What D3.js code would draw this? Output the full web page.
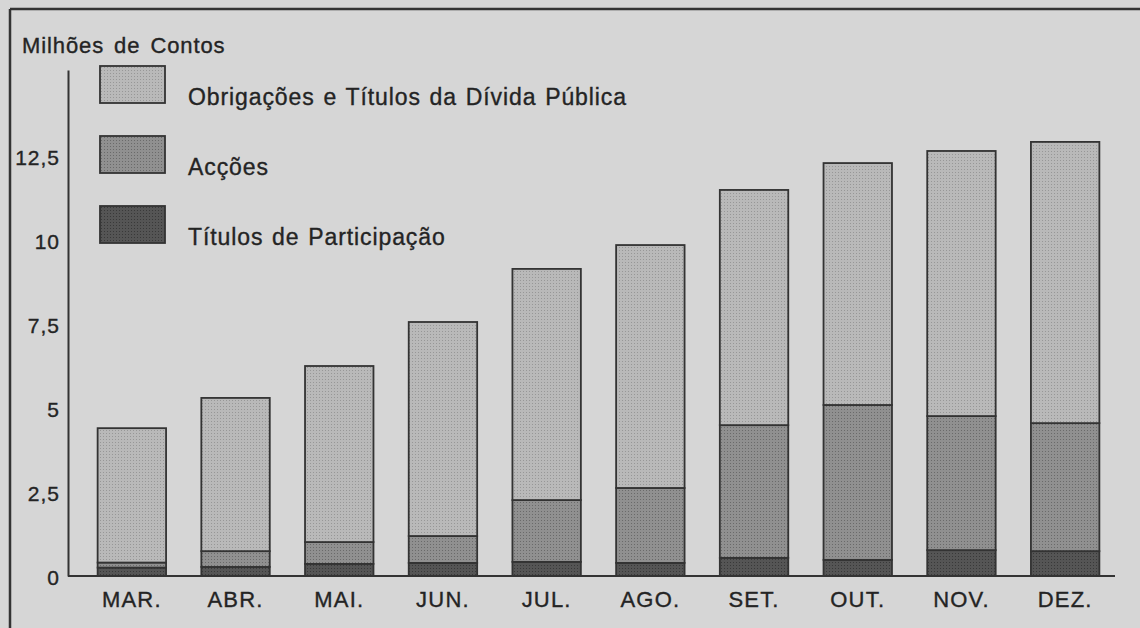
<!DOCTYPE html>
<html>
<head>
<meta charset="utf-8">
<script src="https://cdn.jsdelivr.net/npm/d3@7"></script>
<style>
body { margin: 0; background: #d6d6d6; }
svg { display: block; }
text { font-family: "Liberation Sans", Arial, sans-serif; fill: #242424; stroke: #242424; stroke-width: 0.35px; }
</style>
</head>
<body>
<svg id="chart" width="1140" height="628"></svg>
<script>
// values (millions of contos)
var months = ["MAR.", "ABR.", "MAI.", "JUN.", "JUL.", "AGO.", "SET.", "OUT.", "NOV.", "DEZ."];
var titulos = [0.25, 0.27, 0.36, 0.39, 0.42, 0.39, 0.54, 0.48, 0.77, 0.74];
var accoes = [0.15, 0.47, 0.65, 0.80, 1.84, 2.23, 3.95, 4.61, 3.99, 3.81];
var obrigacoes = [4.00, 4.56, 5.24, 6.37, 6.88, 7.23, 7.00, 7.20, 7.89, 8.37];
var yTicks = [0, 2.5, 5, 7.5, 10, 12.5];
var seriesNames = ["Obrigações e Títulos da Dívida Pública", "Acções", "Títulos de Participação"];

var svg = d3.select("#chart");

// halftone-ish fills
var defs = svg.append("defs");
function dotPattern(id, base, dot) {
	var p = defs.append("pattern")
		.attr("id", id)
		.attr("width", 3)
		.attr("height", 3)
		.attr("patternUnits", "userSpaceOnUse");
	p.append("rect").attr("width", 3).attr("height", 3).attr("fill", base);
	p.append("rect").attr("x", 1).attr("y", 1).attr("width", 1).attr("height", 1).attr("fill", dot);
}
dotPattern("pObr", "#b9b9b9", "#979797");
dotPattern("pAcc", "#909090", "#6a6a6a");
dotPattern("pTit", "#555555", "#393939");
var fills = ["url(#pObr)", "url(#pAcc)", "url(#pTit)"];

// frame
svg.append("line").attr("x1", 10).attr("x2", 1140).attr("y1", 9).attr("y2", 9)
	.attr("stroke", "#333").attr("stroke-width", 2.5);
svg.append("line").attr("x1", 10).attr("x2", 10).attr("y1", 9).attr("y2", 628)
	.attr("stroke", "#333").attr("stroke-width", 2.5);

var x = d3.scaleBand()
	.domain(months)
	.range([80, 1117])
	.paddingInner(0.34)
	.paddingOuter(0.17);

var y = d3.scaleLinear()
	.domain([0, 15.06])
	.range([576, 70]);

var data = months.map(function(m, i) {
	return { month: m, tit: titulos[i], acc: accoes[i], obr: obrigacoes[i] };
});
var stack = d3.stack().keys(["tit", "acc", "obr"]);
var layers = stack(data);
var fillByKey = { tit: fills[2], acc: fills[1], obr: fills[0] };

svg.append("g")
	.selectAll("g")
	.data(layers)
	.join("g")
	.attr("fill", function(d) { return fillByKey[d.key]; })
	.selectAll("rect")
	.data(function(d) { return d; })
	.join("rect")
	.attr("x", function(d) { return x(d.data.month); })
	.attr("y", function(d) { return y(d[1]); })
	.attr("width", x.bandwidth())
	.attr("height", function(d) { return y(d[0]) - y(d[1]); })
	.attr("stroke", "#333")
	.attr("stroke-width", 1.8);

// y axis
var yAxis = d3.axisLeft(y)
	.tickValues(yTicks)
	.tickSize(0)
	.tickSizeOuter(0)
	.tickPadding(8)
	.tickFormat(function(d) { return String(d).replace(".", ","); });

var gy = svg.append("g")
	.attr("transform", "translate(68,0)")
	.call(yAxis);
gy.select(".domain").attr("stroke", "#333").attr("stroke-width", 2);
gy.selectAll("text")
	.attr("font-size", 21)
	.attr("letter-spacing", "1px")
	.attr("font-family", "Liberation Sans, Arial, sans-serif")
	.attr("fill", "#242424")
	.attr("dy", "0.4em");

// baseline
svg.append("line")
	.attr("x1", 68).attr("x2", 1115)
	.attr("y1", y(0)).attr("y2", y(0))
	.attr("stroke", "#333").attr("stroke-width", 2);

var xAxis = d3.axisBottom(x).tickSize(0).tickPadding(15);
var gx = svg.append("g")
	.attr("transform", "translate(0," + y(0) + ")")
	.call(xAxis);
gx.select(".domain").remove();
gx.selectAll("text")
	.attr("font-size", 22)
	.attr("letter-spacing", "1.2px")
	.attr("font-family", "Liberation Sans, Arial, sans-serif")
	.attr("fill", "#242424");

// unit label
svg.append("text")
	.attr("x", 22)
	.attr("y", 53)
	.attr("font-size", 22)
	.attr("letter-spacing", "0.9px")
	.attr("word-spacing", "3px")
	.text("Milhões de Contos");

// legend
var legend = svg.append("g")
	.selectAll("g")
	.data(seriesNames)
	.join("g")
	.attr("transform", function(d, i) { return "translate(100," + (66 + i * 70) + ")"; });

legend.append("rect")
	.attr("width", 65)
	.attr("height", 37)
	.attr("fill", function(d, i) { return fills[i]; })
	.attr("stroke", "#333")
	.attr("stroke-width", 1.8);

legend.append("text")
	.attr("x", 88)
	.attr("y", 39)
	.attr("font-size", 23)
	.attr("letter-spacing", "0.9px")
	.attr("word-spacing", "1.5px")
	.text(function(d) { return d; });
</script>
</body>
</html>
